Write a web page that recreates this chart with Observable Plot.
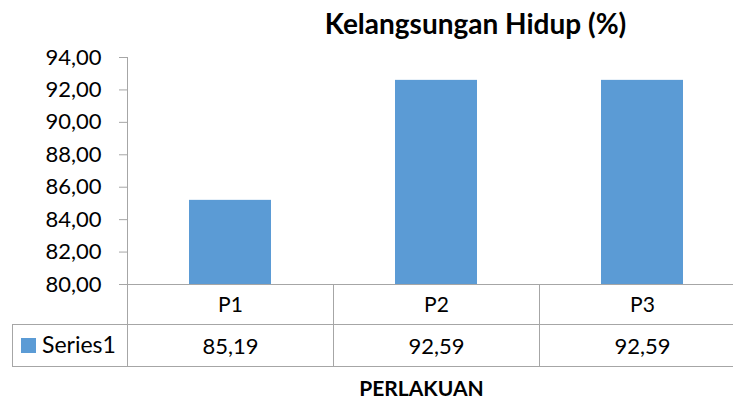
<!DOCTYPE html>
<html>
<head>
<meta charset="utf-8">
<script src="https://cdn.jsdelivr.net/npm/d3@7"></script>
<script src="https://cdn.jsdelivr.net/npm/@observablehq/plot@0.6"></script>
<style>
  html, body { margin: 0; padding: 0; background: #fff; }
  #chart svg { display: block; }
</style>
</head>
<body>
<div id="chart"></div>
<script>
// ---- data ----
const categories = ["P1", "P2", "P3"];
const values = [85.19, 92.59, 92.59];
const seriesName = "Series1";
const yTicks = [80, 82, 84, 86, 88, 90, 92, 94];
const title = "Kelangsungan Hidup (%)";
const xTitle = "PERLAKUAN";

const data = categories.map((c, i) => ({cat: c, value: values[i]}));
const fmt = v => v.toFixed(2).replace(".", ",");
const FONT = "Lato, 'Open Sans', sans-serif";
const BLUE = "#5B9BD5";
const GRID = "#A6A6A6";
const yMin = yTicks[0], yMax = yTicks[yTicks.length - 1];

const W = 733, H = 401;
const ML = 127, MT = 57, MB = 35, MR = -12;
const rowH1 = 40, rowH2 = 42;

const chart = Plot.plot({
  width: W, height: H,
  marginLeft: ML, marginTop: MT, marginBottom: MB, marginRight: MR,
  style: {fontFamily: FONT, background: "#fff", overflow: "visible"},
  x: {domain: categories, paddingInner: 0.6, paddingOuter: 0.3, axis: null},
  y: {domain: [yMin, yMax], range: [H - MB - rowH1 - rowH2, MT]},
  marks: [
    Plot.barY(data, {x: "cat", y1: yMin, y2: "value", fill: BLUE}),
    Plot.frame({anchor: "left", stroke: GRID, strokeWidth: 1}),
    Plot.ruleY([yMin], {stroke: GRID, strokeWidth: 1}),
    Plot.axisY({ticks: yTicks, tickFormat: fmt, tickSize: 8, tickPadding: 18,
      fontSize: 22, stroke: GRID, color: "#000", label: null}),
    // category labels row
    Plot.text(categories, {x: d => d, y: yMin, dy: 21, text: d => d,
      fontSize: 21, fill: "#000"}),
    // values row
    Plot.text(data, {x: "cat", y: yMin, dy: 62, text: d => fmt(d.value),
      fontSize: 22, fill: "#000"}),
    // title
    Plot.text([title], {frameAnchor: "top", lineAnchor: "middle", dx: 39, dy: -32, text: d => d,
      fontSize: 28, fontWeight: "bold", fill: "#000"}),
    // x axis title
    Plot.text([xTitle], {frameAnchor: "bottom", lineAnchor: "middle", dx: -15, dy: 23, text: d => d,
      fontSize: 21, fontWeight: "bold", fill: "#000"})
  ]
});

// Data table grid, positioned through the plot's own scales
const sx = chart.scale("x");
const sy = chart.scale("y");
const step = sx.step, bw = sx.bandwidth;
const y0 = sy.apply(yMin);
const yRow = y0 + rowH1, yBot = yRow + rowH2;
const svg = d3.select(chart);
const g = svg.append("g").attr("stroke", GRID).attr("stroke-width", 1).attr("shape-rendering", "crispEdges");
const cellLeft = c => sx.apply(c) - (step - bw) / 2;
categories.slice(1).forEach(c => {
  g.append("line").attr("x1", cellLeft(c)).attr("x2", cellLeft(c)).attr("y1", y0).attr("y2", yBot);
});
const tableLeft = 12;
g.append("line").attr("x1", tableLeft).attr("x2", W).attr("y1", yRow).attr("y2", yRow);
g.append("line").attr("x1", tableLeft).attr("x2", W).attr("y1", yBot).attr("y2", yBot);
g.append("line").attr("x1", tableLeft).attr("x2", tableLeft).attr("y1", yRow).attr("y2", yBot);
// legend key + series name
const lg = svg.append("g");
lg.append("rect").attr("x", 21).attr("y", yRow + 14).attr("width", 15).attr("height", 15).attr("fill", BLUE);
lg.append("text").attr("x", 42).attr("y", yRow + 21).attr("dy", "0.35em").attr("text-anchor", "start")
  .attr("font-family", FONT).attr("font-size", 23).attr("fill", "#000").text(seriesName);

document.getElementById("chart").appendChild(chart);
</script>
</body>
</html>
